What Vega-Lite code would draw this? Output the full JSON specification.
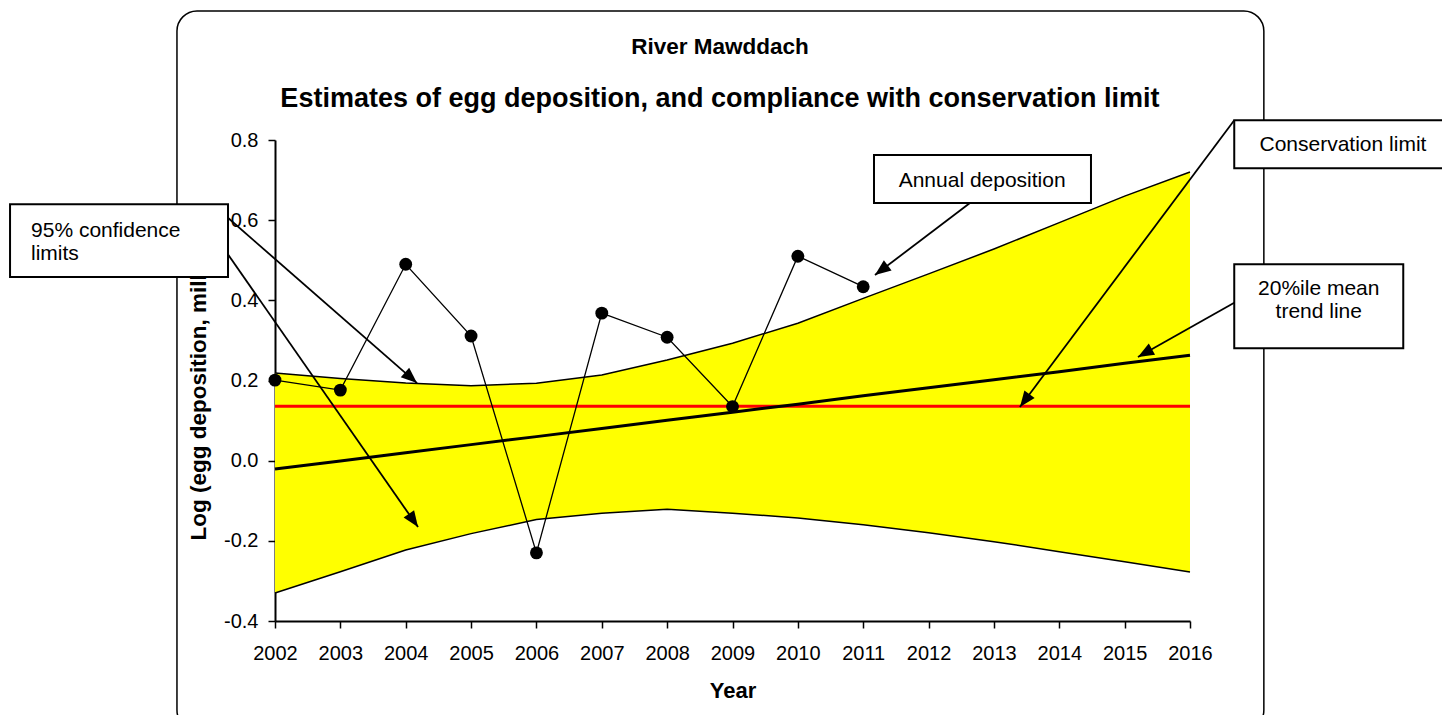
{
  "$schema": "https://vega.github.io/schema/vega-lite/v6.json",
  "width": 915,
  "height": 481,
  "autosize": {"type": "none"},
  "padding": {"left": 275, "top": 140, "right": 252, "bottom": 94},
  "background": "white",
  "config": {
    "view": {"stroke": null},
    "font": "Liberation Sans",
    "axis": {"grid": false, "labelColor": "black", "titleColor": "black", "domainColor": "black", "tickColor": "black"}
  },
  "datasets": {
    "main": [
      {"year": 2002, "dep": 0.201, "lo": -0.330, "hi": 0.219, "trend": -0.021, "limit": 0.136},
      {"year": 2003, "dep": 0.176, "lo": -0.277, "hi": 0.205, "trend": -0.001, "limit": 0.136},
      {"year": 2004, "dep": 0.490, "lo": -0.223, "hi": 0.194, "trend": 0.020, "limit": 0.136},
      {"year": 2005, "dep": 0.311, "lo": -0.182, "hi": 0.187, "trend": 0.040, "limit": 0.136},
      {"year": 2006, "dep": -0.230, "lo": -0.147, "hi": 0.193, "trend": 0.060, "limit": 0.136},
      {"year": 2007, "dep": 0.368, "lo": -0.131, "hi": 0.214, "trend": 0.080, "limit": 0.136},
      {"year": 2008, "dep": 0.308, "lo": -0.121, "hi": 0.251, "trend": 0.101, "limit": 0.136},
      {"year": 2009, "dep": 0.135, "lo": -0.131, "hi": 0.293, "trend": 0.121, "limit": 0.136},
      {"year": 2010, "dep": 0.510, "lo": -0.143, "hi": 0.343, "trend": 0.141, "limit": 0.136},
      {"year": 2011, "dep": 0.434, "lo": -0.160, "hi": 0.405, "trend": 0.162, "limit": 0.136},
      {"year": 2012, "dep": null, "lo": -0.180, "hi": 0.466, "trend": 0.182, "limit": 0.136},
      {"year": 2013, "dep": null, "lo": -0.202, "hi": 0.528, "trend": 0.202, "limit": 0.136},
      {"year": 2014, "dep": null, "lo": -0.227, "hi": 0.594, "trend": 0.222, "limit": 0.136},
      {"year": 2015, "dep": null, "lo": -0.252, "hi": 0.660, "trend": 0.243, "limit": 0.136},
      {"year": 2016, "dep": null, "lo": -0.278, "hi": 0.720, "trend": 0.263, "limit": 0.136}
    ],
    "frame": [{"x1": 2000.50, "x2": 2017.13, "y1": 1.1218, "y2": -0.672}],
    "title": [
      {"x": 2008.808, "y": 1.0137, "text": "River Mawddach"}
    ],
    "subtitle": [
      {"x": 2008.808, "y": 0.8828, "text": "Estimates of egg deposition, and compliance with conservation limit"}
    ],
    "boxes": [
      {"x1": 1997.946, "x2": 2001.281, "y1": 0.640, "y2": 0.458},
      {"x1": 2011.165, "x2": 2014.485, "y1": 0.7625, "y2": 0.6427},
      {"x1": 2016.677, "x2": 2019.98, "y1": 0.8493, "y2": 0.7293},
      {"x1": 2016.677, "x2": 2019.263, "y1": 0.4898, "y2": 0.2802}
    ],
    "arrows": [
      {"x1": 2001.266, "y1": 0.6078, "x2": 2004.173, "y2": 0.1936},
      {"x1": 2001.266, "y1": 0.5180, "x2": 2004.188, "y2": -0.1657},
      {"x1": 2012.633, "y1": 0.6427, "x2": 2011.180, "y2": 0.4631},
      {"x1": 2016.677, "y1": 0.8493, "x2": 2013.398, "y2": 0.1337},
      {"x1": 2016.677, "y1": 0.394, "x2": 2015.204, "y2": 0.2585}
    ],
    "notesLeft": [
      {"x": 1998.267, "y": 0.5586, "text": "95% confidence\nlimits"}
    ],
    "notesCenter": [
      {"x": 2012.82, "y": 0.6826, "text": "Annual deposition"},
      {"x": 2018.34, "y": 0.7732, "text": "Conservation limit"},
      {"x": 2017.97, "y": 0.4132, "text": "20%ile mean\ntrend line"}
    ]
  },
  "layer": [
    {
      "data": {"name": "frame"},
      "mark": {"type": "rect", "cornerRadius": 20, "fillOpacity": 0, "stroke": "black", "strokeWidth": 1.5},
      "encoding": {
        "x": {"field": "x1", "type": "quantitative", "scale": {"domain": [2002, 2016], "nice": false, "zero": false},
          "axis": {"values": [2002, 2003, 2004, 2005, 2006, 2007, 2008, 2009, 2010, 2011, 2012, 2013, 2014, 2015, 2016], "format": "d", "title": "Year", "labelFlush": false, "labelOverlap": false, "labelFontSize": 20, "labelPadding": 15, "titleFontSize": 22, "titleFontWeight": "bold", "titlePadding": 17, "tickSize": 7, "tickWidth": 1.5, "domainWidth": 2}},
        "x2": {"field": "x2"},
        "y": {"field": "y1", "type": "quantitative", "scale": {"domain": [-0.4, 0.8], "nice": false, "zero": false},
          "axis": {"values": [-0.4, -0.2, 0, 0.2, 0.4, 0.6, 0.8], "format": ".1f", "labelExpr": "replace(datum.label, '−', '-')", "title": "Log (egg deposition, millions)", "labelFlush": false, "labelOverlap": false, "labelFontSize": 20, "labelPadding": 10, "titleFontSize": 22.5, "titleFontWeight": "bold", "titlePadding": 13, "titleY": 400, "titleAlign": "left", "tickSize": 7, "tickWidth": 1.5, "domainWidth": 2}},
        "y2": {"field": "y2"}
      }
    },
    {
      "data": {"name": "main"},
      "mark": {"type": "area", "color": "#FFFF00", "opacity": 1},
      "encoding": {
        "x": {"field": "year", "type": "quantitative", "scale": {"domain": [2002, 2016], "nice": false, "zero": false}},
        "y": {"field": "lo", "type": "quantitative", "scale": {"domain": [-0.4, 0.8], "nice": false, "zero": false}},
        "y2": {"field": "hi"}
      }
    },
    {
      "data": {"name": "main"},
      "mark": {"type": "line", "color": "black", "strokeWidth": 1.5},
      "encoding": {
        "x": {"field": "year", "type": "quantitative", "scale": {"domain": [2002, 2016], "nice": false, "zero": false}},
        "y": {"field": "lo", "type": "quantitative", "scale": {"domain": [-0.4, 0.8], "nice": false, "zero": false}}
      }
    },
    {
      "data": {"name": "main"},
      "mark": {"type": "line", "color": "black", "strokeWidth": 1.5},
      "encoding": {
        "x": {"field": "year", "type": "quantitative", "scale": {"domain": [2002, 2016], "nice": false, "zero": false}},
        "y": {"field": "hi", "type": "quantitative", "scale": {"domain": [-0.4, 0.8], "nice": false, "zero": false}}
      }
    },
    {
      "data": {"name": "main"},
      "mark": {"type": "line", "color": "#FF0000", "strokeWidth": 3},
      "encoding": {
        "x": {"field": "year", "type": "quantitative", "scale": {"domain": [2002, 2016], "nice": false, "zero": false}},
        "y": {"field": "limit", "type": "quantitative", "scale": {"domain": [-0.4, 0.8], "nice": false, "zero": false}}
      }
    },
    {
      "data": {"name": "main"},
      "mark": {"type": "line", "color": "black", "strokeWidth": 3},
      "encoding": {
        "x": {"field": "year", "type": "quantitative", "scale": {"domain": [2002, 2016], "nice": false, "zero": false}},
        "y": {"field": "trend", "type": "quantitative", "scale": {"domain": [-0.4, 0.8], "nice": false, "zero": false}}
      }
    },
    {
      "data": {"name": "main"},
      "mark": {"type": "line", "color": "black", "strokeWidth": 1.3},
      "encoding": {
        "x": {"field": "year", "type": "quantitative", "scale": {"domain": [2002, 2016], "nice": false, "zero": false}},
        "y": {"field": "dep", "type": "quantitative", "scale": {"domain": [-0.4, 0.8], "nice": false, "zero": false}}
      }
    },
    {
      "data": {"name": "main"},
      "mark": {"type": "point", "filled": true, "color": "black", "opacity": 1, "size": 165},
      "encoding": {
        "x": {"field": "year", "type": "quantitative", "scale": {"domain": [2002, 2016], "nice": false, "zero": false}},
        "y": {"field": "dep", "type": "quantitative", "scale": {"domain": [-0.4, 0.8], "nice": false, "zero": false}}
      }
    },
    {
      "data": {"name": "arrows"},
      "mark": {"type": "rule", "color": "black", "strokeWidth": 1.8},
      "encoding": {
        "x": {"field": "x1", "type": "quantitative", "scale": {"domain": [2002, 2016], "nice": false, "zero": false}},
        "x2": {"field": "x2"},
        "y": {"field": "y1", "type": "quantitative", "scale": {"domain": [-0.4, 0.8], "nice": false, "zero": false}},
        "y2": {"field": "y2"}
      }
    },
    {
      "data": {"name": "arrows"},
      "transform": [
        {"calculate": "(datum.x2 - datum.x1) * 65.36", "as": "dxp"},
        {"calculate": "(datum.y2 - datum.y1) * 400.8", "as": "dyp"},
        {"calculate": "sqrt(datum.dxp * datum.dxp + datum.dyp * datum.dyp)", "as": "len"},
        {"calculate": "atan2(datum.dxp, datum.dyp) * 180 / PI", "as": "ang"},
        {"calculate": "datum.x2 - datum.dxp / datum.len * 8 / 65.36", "as": "hx"},
        {"calculate": "datum.y2 - datum.dyp / datum.len * 8 / 400.8", "as": "hy"}
      ],
      "mark": {"type": "point", "shape": "M0,-1L0.8,1L-0.8,1Z", "filled": true, "color": "black", "opacity": 1, "size": 256},
      "encoding": {
        "x": {"field": "hx", "type": "quantitative", "scale": {"domain": [2002, 2016], "nice": false, "zero": false}},
        "y": {"field": "hy", "type": "quantitative", "scale": {"domain": [-0.4, 0.8], "nice": false, "zero": false}},
        "angle": {"field": "ang", "type": "quantitative", "scale": null}
      }
    },
    {
      "data": {"name": "boxes"},
      "mark": {"type": "rect", "fill": "white", "stroke": "black", "strokeWidth": 2},
      "encoding": {
        "x": {"field": "x1", "type": "quantitative", "scale": {"domain": [2002, 2016], "nice": false, "zero": false}},
        "x2": {"field": "x2"},
        "y": {"field": "y1", "type": "quantitative", "scale": {"domain": [-0.4, 0.8], "nice": false, "zero": false}},
        "y2": {"field": "y2"}
      }
    },
    {
      "data": {"name": "title"},
      "mark": {"type": "text", "align": "center", "baseline": "alphabetic", "fontSize": 22.5, "fontWeight": "bold", "color": "black"},
      "encoding": {
        "x": {"field": "x", "type": "quantitative", "scale": {"domain": [2002, 2016], "nice": false, "zero": false}},
        "y": {"field": "y", "type": "quantitative", "scale": {"domain": [-0.4, 0.8], "nice": false, "zero": false}},
        "text": {"field": "text"}
      }
    },
    {
      "data": {"name": "subtitle"},
      "mark": {"type": "text", "align": "center", "baseline": "alphabetic", "fontSize": 27, "fontWeight": "bold", "color": "black"},
      "encoding": {
        "x": {"field": "x", "type": "quantitative", "scale": {"domain": [2002, 2016], "nice": false, "zero": false}},
        "y": {"field": "y", "type": "quantitative", "scale": {"domain": [-0.4, 0.8], "nice": false, "zero": false}},
        "text": {"field": "text"}
      }
    },
    {
      "data": {"name": "notesLeft"},
      "mark": {"type": "text", "align": "left", "baseline": "alphabetic", "fontSize": 21, "lineHeight": 23, "lineBreak": "\n", "color": "black"},
      "encoding": {
        "x": {"field": "x", "type": "quantitative", "scale": {"domain": [2002, 2016], "nice": false, "zero": false}},
        "y": {"field": "y", "type": "quantitative", "scale": {"domain": [-0.4, 0.8], "nice": false, "zero": false}},
        "text": {"field": "text"}
      }
    },
    {
      "data": {"name": "notesCenter"},
      "mark": {"type": "text", "align": "center", "baseline": "alphabetic", "fontSize": 21, "lineHeight": 23, "lineBreak": "\n", "color": "black"},
      "encoding": {
        "x": {"field": "x", "type": "quantitative", "scale": {"domain": [2002, 2016], "nice": false, "zero": false}},
        "y": {"field": "y", "type": "quantitative", "scale": {"domain": [-0.4, 0.8], "nice": false, "zero": false}},
        "text": {"field": "text"}
      }
    }
  ]
}
